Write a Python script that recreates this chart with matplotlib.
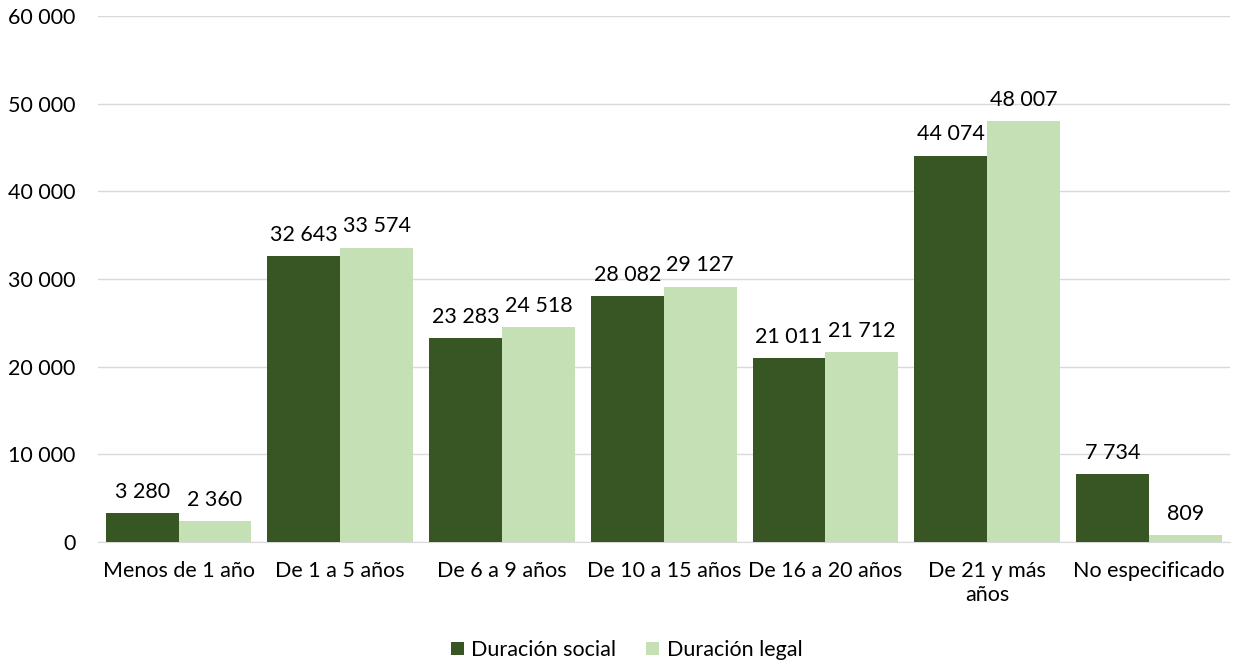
import numpy as np
import matplotlib
matplotlib.use('Agg')
import matplotlib.pyplot as plt

plt.rcParams['font.family'] = ['Lato', 'DejaVu Sans']

categories = ['Menos de 1 año', 'De 1 a 5 años', 'De 6 a 9 años', 'De 10 a 15 años',
              'De 16 a 20 años', 'De 21 y más\naños', 'No especificado']
social = [3280, 32643, 23283, 28082, 21011, 44074, 7734]
legal = [2360, 33574, 24518, 29127, 21712, 48007, 809]
series_names = ['Duración social', 'Duración legal']
colors = ['#375623', '#C5E0B4']

def fmt(v):
    return '{:,}'.format(int(v)).replace(',', ' ')

fs = 15.5
fig = plt.figure(figsize=(12.36, 6.61), dpi=100)
ax = fig.add_axes([0.079, 0.18, 0.916, 0.796])

x = np.arange(len(categories))
w = 0.45
b1 = ax.bar(x - w/2, social, w, color=colors[0], label=series_names[0], zorder=3)
b2 = ax.bar(x + w/2, legal, w, color=colors[1], label=series_names[1], zorder=3)

for bars in (b1, b2):
    for r in bars:
        ax.annotate(fmt(r.get_height()), (r.get_x() + r.get_width()/2, r.get_height()),
                    xytext=(0, 8), textcoords='offset points', ha='center', va='bottom',
                    fontsize=fs, color='#000000')

ax.set_ylim(0, 60000)
ax.set_xlim(-0.5, len(categories) - 0.5)
ax.set_yticks(np.arange(0, 60001, 10000))
ax.set_yticklabels([fmt(v) for v in np.arange(0, 60001, 10000)], fontsize=fs)
ax.set_xticks(x)
ax.set_xticklabels(categories, fontsize=fs, linespacing=1.2)
ax.tick_params(axis='both', length=0)
ax.tick_params(axis='x', pad=14)
ax.tick_params(axis='y', pad=16)
ax.grid(axis='y', color='#D9D9D9', linewidth=1, zorder=0)
for s in ['top', 'right', 'left']:
    ax.spines[s].set_visible(False)
ax.spines['bottom'].set_color('#D9D9D9')

fig.legend(loc='lower center', bbox_to_anchor=(0.507, -0.028), ncol=2, frameon=False,
           fontsize=fs, handlelength=0.6, handleheight=0.6, columnspacing=1.4, handletextpad=0.35)

fig.savefig('out.png', dpi=100)
